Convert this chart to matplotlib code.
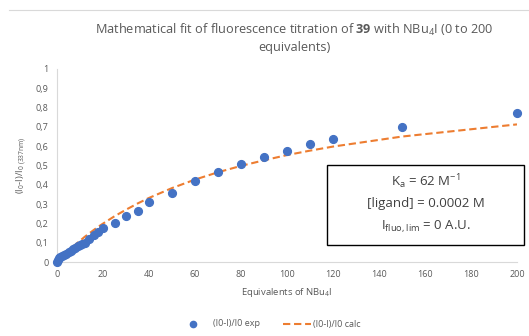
import matplotlib
matplotlib.use("Agg")
import matplotlib.pyplot as plt
from matplotlib.patches import Rectangle
from matplotlib.lines import Line2D
import numpy as np

plt.rcParams['font.family'] = ['Open Sans', 'DejaVu Sans']
plt.rcParams['mathtext.fontset'] = 'custom'
plt.rcParams['mathtext.rm'] = 'Open Sans'
plt.rcParams['mathtext.it'] = 'Open Sans'
plt.rcParams['mathtext.bf'] = 'Open Sans:bold'

# Experimental data
eq_exp = [0, 0.5, 1, 1.5, 2, 3, 4, 5, 6, 7, 8, 9, 10, 11, 12, 14, 16, 18, 20,
          25, 30, 35, 40, 50, 60, 70, 80, 90, 100, 110, 120, 150, 200]
y_exp = [0, 0.01, 0.02, 0.025, 0.03, 0.035, 0.04, 0.05, 0.055, 0.065, 0.075, 0.085,
         0.09, 0.095, 0.10, 0.12, 0.14, 0.155, 0.175,
         0.20, 0.24, 0.265, 0.31, 0.36, 0.42, 0.465, 0.51, 0.545, 0.575, 0.61, 0.635, 0.70, 0.77]

# Calculated (fit) curve
eq_calc = [0, 1, 2, 3, 4, 5, 6, 7, 8, 9, 10, 12, 14, 16, 18, 20, 25, 30, 35, 40,
           50, 60, 70, 80, 90, 100, 110, 120, 150, 200]
y_calc = [0, 0.012, 0.024, 0.036, 0.047, 0.058, 0.069, 0.080, 0.090, 0.100, 0.110,
          0.130, 0.148, 0.166, 0.183, 0.199, 0.237, 0.271, 0.303, 0.332,
          0.383, 0.427, 0.465, 0.498, 0.527, 0.554, 0.577, 0.598, 0.650, 0.713]

x_ticks = list(range(0, 201, 20))
y_ticks = [round(0.1 * i, 1) for i in range(11)]
y_tick_labels = [('%g' % v).replace('.', ',') for v in y_ticks]

gray = '#595959'
blue = '#4472C4'
orange = '#ED7D31'

fig = plt.figure(figsize=(5.29, 3.36), dpi=100)
ax = fig.add_axes([57/529, (336-262)/336, (517-57)/529, (262-69)/336])

ax.plot(eq_calc, y_calc, linestyle=(0, (3.5, 1.8)), color=orange, linewidth=1.5, zorder=2)
ax.plot(eq_exp, y_exp, linestyle='none', marker='o', markersize=5.6,
        color=blue, zorder=3, clip_on=False)

ax.set_xlim(0, 200)
ax.set_ylim(0, 1)
ax.set_xticks(x_ticks)
ax.set_yticks(y_ticks)
ax.set_yticklabels(y_tick_labels)
ax.tick_params(axis='both', length=0, labelsize=6.5, colors=gray, pad=6)
for s in ['top', 'right']:
    ax.spines[s].set_visible(False)
for s in ['left', 'bottom']:
    ax.spines[s].set_color('#d9d9d9')
    ax.spines[s].set_linewidth(0.8)

ax.set_xlabel('Equivalents of NBu$_4$I', fontsize=6.8, color=gray, labelpad=5)
ax.set_ylabel('(I$_0$-I)/I$_{0\\ (337nm)}$', fontsize=6.8, color=gray, labelpad=5)

fig.text(0.557, 1 - 30/336, 'Mathematical fit of fluorescence titration of $\\mathbf{39}$ with NBu$_4$I (0 to 200',
         ha='center', va='center', fontsize=9.2, color=gray)
fig.text(0.557, 1 - 47/336, 'equivalents)', ha='center', va='center', fontsize=9.2, color=gray)

# top border line
fig.add_artist(Line2D([9/529, 1], [1 - 10/336, 1 - 10/336], color='#d9d9d9', linewidth=0.8))

# text box
box = Rectangle((327/529, (336-245)/336), (524-327)/529, (245-165)/336,
                transform=fig.transFigure, facecolor='white', edgecolor='black',
                linewidth=1.0, zorder=5)
fig.add_artist(box)
cx = (327 + 524) / 2 / 529
fig.text(cx, 1 - 182/336, 'K$_a$ = 62 M$^{-1}$', ha='center', va='center', fontsize=9.5, color='#404040', zorder=6)
fig.text(cx, 1 - 204/336, '[ligand] = 0.0002 M', ha='center', va='center', fontsize=9.5, color='#404040', zorder=6)
fig.text(cx, 1 - 226/336, 'I$_{fluo,lim}$ = 0 A.U.', ha='center', va='center', fontsize=9.5, color='#404040', zorder=6)

# legend
ly = 1 - 324/336
fig.add_artist(Line2D([193/529], [ly], marker='o', markersize=4.5, color=blue, linestyle='none'))
fig.text(213/529, ly, '(I0-I)/I0 exp', ha='left', va='center', fontsize=6.5, color=gray)
fig.add_artist(Line2D([283/529, 311/529], [ly, ly], color=orange, linewidth=1.5, linestyle=(0, (3.5, 1.8))))
fig.text(313/529, ly, '(I0-I)/I0 calc', ha='left', va='center', fontsize=6.5, color=gray)

fig.savefig('out.png', dpi=100)
